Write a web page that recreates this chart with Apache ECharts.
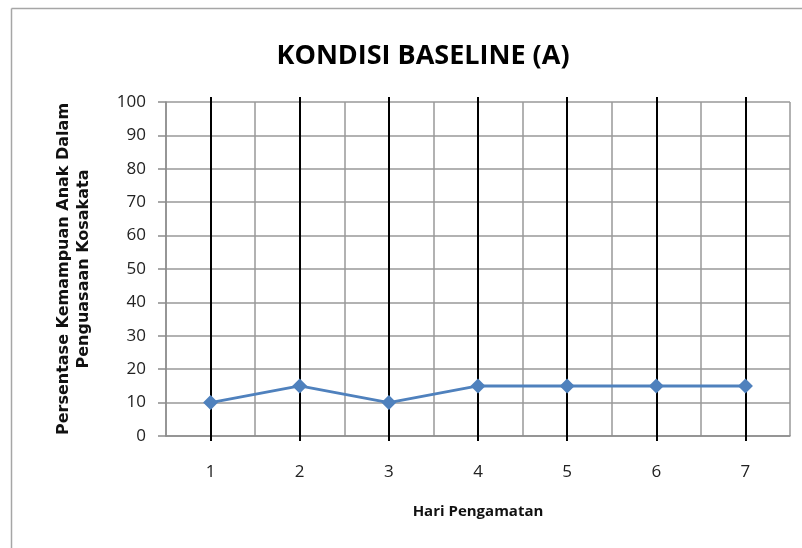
<!DOCTYPE html>
<html>
<head>
    <meta charset="UTF-8">
    <title>Kondisi Baseline (A)</title>
    <script src="https://cdn.jsdelivr.net/npm/echarts@6/dist/echarts.min.js"></script>
    <style>
        html, body { margin: 0; padding: 0; background: #fff; }
        #chart { width: 802px; height: 548px; }
    </style>
</head>
<body>
    <div id="chart"></div>
    <script>
        // data
        var days = ['1', '2', '3', '4', '5', '6', '7'];
        var percent = [10, 15, 10, 15, 15, 15, 15];
        var yTicks = { min: 0, max: 100, step: 10 };

        var chart = echarts.init(document.getElementById('chart'), null, { renderer: 'canvas' });
        var plotTop = 102, plotBottom = 112;
        var plotHeight = 548 - plotTop - plotBottom;

        var labelFont = { color: '#222', fontSize: 17, fontFamily: 'Open Sans' };

        chart.setOption({
            animation: false,
            backgroundColor: '#fff',
            title: {
                text: 'KONDISI BASELINE (A)',
                left: 418, top: 38, textAlign: 'center',
                textStyle: { fontFamily: 'Open Sans', fontWeight: 'bold', fontSize: 27, color: '#000' }
            },
            graphic: [
                { type: 'line', shape: { x1: 11.5, y1: 8.5, x2: 802, y2: 8.5 }, style: { stroke: '#a6a6a6', lineWidth: 1.5 } },
                { type: 'line', shape: { x1: 11.5, y1: 8.5, x2: 11.5, y2: 548 }, style: { stroke: '#a6a6a6', lineWidth: 1.5 } }
            ],
            grid: { left: 166, right: 12, top: plotTop, bottom: plotBottom },
            xAxis: [{
                type: 'category',
                data: days,
                boundaryGap: true,
                name: 'Hari Pengamatan',
                nameLocation: 'middle',
                nameGap: 68,
                nameTextStyle: { fontFamily: 'Open Sans', fontWeight: 'bold', fontSize: 15, color: '#111' },
                axisLine: { show: true, lineStyle: { color: '#8c8c8c', width: 1.5 } },
                axisTick: { show: true, alignWithLabel: true, length: 5, lineStyle: { color: '#000', width: 2 } },
                axisLabel: Object.assign({ margin: 28 }, labelFont),
                splitLine: { show: true, lineStyle: { color: '#999', width: 1.5 } }
            }, {
                // long inward ticks give the black day lines
                type: 'category',
                data: days,
                position: 'bottom',
                boundaryGap: true,
                axisLine: { show: false },
                axisTick: { show: true, inside: true, alignWithLabel: true, length: plotHeight + 5, lineStyle: { color: '#000', width: 2 } },
                axisLabel: { show: false },
                splitLine: { show: false }
            }],
            yAxis: {
                type: 'value',
                min: yTicks.min, max: yTicks.max, interval: yTicks.step,
                name: 'Persentase Kemampuan Anak Dalam\nPenguasaan Kosakata',
                nameLocation: 'middle',
                nameGap: 72,
                nameTextStyle: {
                    fontFamily: 'DejaVu Sans', fontWeight: 'bold', fontSize: 16,
                    color: '#111', lineHeight: 20
                },
                axisLine: { show: true, lineStyle: { color: '#8c8c8c', width: 1.5 } },
                axisTick: { show: true, length: 8, lineStyle: { color: '#8c8c8c', width: 1.5 } },
                axisLabel: Object.assign({ margin: 20 }, labelFont),
                splitLine: { show: true, lineStyle: { color: '#999', width: 1.5 } }
            },
            series: [{
                type: 'line',
                data: percent,
                symbol: 'diamond',
                symbolSize: 15,
                lineStyle: { color: '#4f81bd', width: 3 },
                itemStyle: { color: '#4f81bd' },
                z: 5
            }]
        });
    </script>
</body>
</html>
